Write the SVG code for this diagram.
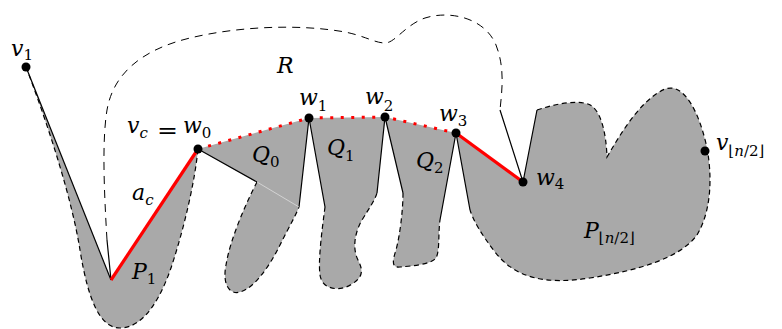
<svg xmlns="http://www.w3.org/2000/svg" width="782" height="329" viewBox="0 0 782 329">
<style>
.g{fill:#a9a9a9;stroke:none}
.d{fill:none;stroke:#000;stroke-width:1.2;stroke-dasharray:5 3.5}
.dr{fill:none;stroke:#000;stroke-width:1;stroke-dasharray:8 6}
.s{fill:none;stroke:#000;stroke-width:1.2}
.r{fill:none;stroke:#f00;stroke-width:3.2}
.rd{fill:none;stroke:#f00;stroke-width:3;stroke-dasharray:3 7.5}
.w{fill:none;stroke:#ddd;stroke-width:0.8}
.pt{fill:#000}
</style>
<g id="P1">
<path class="g" d="M26,67 L111,280 L198,149 C195,180 185,225 172,265 C162,295 145,328 120,328 C100,328 88,300 80,250 C72,200 50,130 26,67 Z"/>
<path class="d" d="M26,67 C50,130 72,200 80,250 C88,300 100,328 120,328 C145,328 162,295 172,265 C185,225 195,180 198,149"/>
<path class="s" d="M26,67 L111,280"/>
</g>
<g id="Q0">
<path class="g" d="M198,149 L309,118 L299,207 C296,215 290,225 280,245 C270,265 255,288 240,292 C230,295 222,285 226,265 C230,240 245,205 257,182 Z"/>
<path class="d" d="M257,182 C245,205 230,240 226,265 C222,285 230,295 240,292 C255,288 270,265 280,245 C290,225 296,215 299,207"/>
<path class="s" d="M198,149 L257,182 M309,118 L299,207"/>
<path class="w" d="M257,182 L299,207"/>
</g>
<g id="Q1">
<path class="g" d="M309,118 L385,117 L377,193 C375,200 370,207 362,220 C355,232 352,248 358,260 C362,268 365,276 352,284 C340,292 322,290 320,275 C318,260 322,230 325,207 Z"/>
<path class="d" d="M325,207 C322,230 318,260 320,275 C322,290 340,292 352,284 C365,276 362,268 358,260 C352,248 355,232 362,220 C370,207 375,200 377,193"/>
<path class="s" d="M309,118 L325,207 M385,117 L377,193"/>
</g>
<g id="Q2">
<path class="g" d="M385,117 L456,133 L440,220 C438,235 440,250 436,258 C430,265 410,266 400,267 C392,268 392,262 396,250 C400,235 403,210 403,193 Z"/>
<path class="d" d="M403,193 C403,210 400,235 396,250 C392,262 392,268 400,267 C410,266 430,265 436,258 C440,250 438,235 440,220"/>
<path class="s" d="M385,117 L403,193 M456,133 L440,220"/>
</g>
<g id="Pn2">
<path class="g" d="M456,133 L523,182 L537,110 C555,104 575,100 588,104 C600,108 606,130 607,157 C620,135 640,100 665,89 C685,82 700,115 707,148 C712,175 712,210 697,235 C680,258 640,270 590,278 C545,285 515,278 495,252 C482,235 474,222 470,210 Z"/>
<path class="d" d="M537,110 C555,104 575,100 588,104 C600,108 606,130 607,157 C620,135 640,100 665,89 C685,82 700,115 707,148 C712,175 712,210 697,235 C680,258 640,270 590,278 C545,285 515,278 495,252 C482,235 474,222 470,210"/>
<path class="s" d="M470,210 L456,133 M523,182 L537,110"/>
</g>
<g id="R">
<path class="dr" d="M107,240 C104,190 102,140 107,110 C113,75 140,50 190,38 C240,26 300,24 345,32 C365,36 375,43 385,43 C395,43 405,25 425,18 C450,10 485,18 496,45 C505,68 502,90 500,110"/>
<path class="s" d="M111,280 L107,240 M500,110 L523,182"/>
</g>
<g id="connectors">
<path class="r" d="M111,280 L198,149"/>
<path class="r" d="M456,133 L523,182"/>
<path class="rd" d="M198,149 L309,118 L385,117 L456,133"/>
</g>
<g id="points">
<circle class="pt" cx="26" cy="67" r="4.5"/>
<circle class="pt" cx="198" cy="149" r="4.5"/>
<circle class="pt" cx="309" cy="118" r="4.5"/>
<circle class="pt" cx="385" cy="117" r="4.5"/>
<circle class="pt" cx="456" cy="133" r="4.5"/>
<circle class="pt" cx="523" cy="182" r="4.5"/>
<circle class="pt" cx="705" cy="151" r="4.5"/>
</g>
<g id="labels" font-family="DejaVu Serif, serif" font-size="22" font-style="italic" fill="#000">
<text x="11" y="56">v<tspan font-size="15" font-style="normal" dy="4">1</tspan></text>
<text x="127" y="133">v<tspan font-size="15" dy="5">c</tspan></text>
<text x="157" y="138" font-style="normal" textLength="21" lengthAdjust="spacingAndGlyphs">=</text>
<text x="183" y="133">w<tspan font-size="15" font-style="normal" dy="5">0</tspan></text>
<text x="299" y="105">w<tspan font-size="15" font-style="normal" dy="6">1</tspan></text>
<text x="365" y="104">w<tspan font-size="15" font-style="normal" dy="7">2</tspan></text>
<text x="439" y="121">w<tspan font-size="15" font-style="normal" dy="5">3</tspan></text>
<text x="536" y="185">w<tspan font-size="15" font-style="normal" dy="4">4</tspan></text>
<text x="277" y="73">R</text>
<text x="132" y="200">a<tspan font-size="15" dy="5">c</tspan></text>
<text x="132" y="279">P<tspan font-size="15" font-style="normal" dy="5">1</tspan></text>
<text x="252" y="162">Q<tspan font-size="15" font-style="normal" dy="5">0</tspan></text>
<text x="327" y="155">Q<tspan font-size="15" font-style="normal" dy="6">1</tspan></text>
<text x="416" y="168">Q<tspan font-size="15" font-style="normal" dy="5">2</tspan></text>
<text x="584" y="238">P<tspan font-size="15" font-style="normal" dy="5">⌊</tspan><tspan font-size="15">n</tspan><tspan font-size="15" font-style="normal">/2⌋</tspan></text>
<text x="716" y="150">v<tspan font-size="15" font-style="normal" dy="6">⌊</tspan><tspan font-size="15">n</tspan><tspan font-size="15" font-style="normal">/2⌋</tspan></text>
</g>
</svg>
